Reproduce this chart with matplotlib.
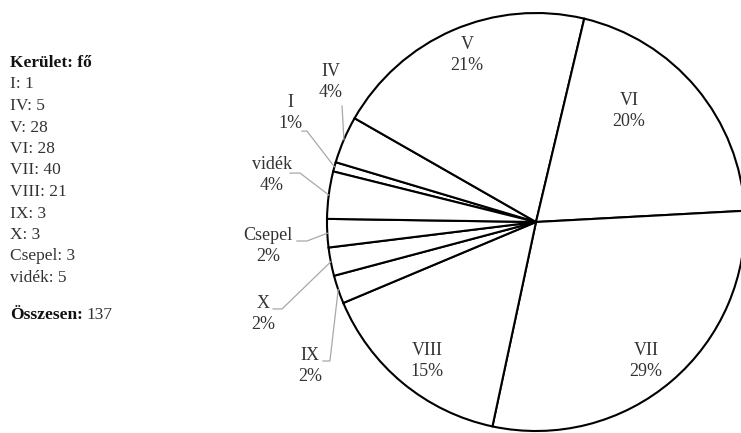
"""
Pie chart of participants by Budapest district (kerület), with a plain
text summary on the left.
"""

import numpy as np
import matplotlib

matplotlib.use("Agg")
import matplotlib.pyplot as plt

DISTRICTS = ["I", "IV", "V", "VI", "VII", "VIII", "IX", "X", "Csepel", "vidék"]
COUNTS = [1, 5, 28, 28, 40, 21, 3, 3, 3, 5]
PCT_LABELS = ["1%", "4%", "21%", "20%", "29%", "15%", "2%", "2%", "2%", "4%"]

# layout (pie radius = 1, centre at 0,0)
W, H = 741, 433
CX, CY, R = 536, 222, 209
TEXT_COLOR = "#333333"
LEADER_COLOR = "#a8a8a8"
FONT = "Liberation Serif"

# label centres for the big wedges
INSIDE_POS = {
    "V": (-0.330, 0.799),
    "VI": (0.445, 0.531),
    "VII": (0.526, -0.665),
    "VIII": (-0.522, -0.665),
}

# small wedges: label centre, end of the short horizontal, elbow
OUTSIDE_POS = {
    "IV": ((-0.981, 0.670), (-0.928, 0.555), (-0.928, 0.555)),
    "I": ((-1.177, 0.522), (-1.120, 0.435), (-1.096, 0.435)),
    "vidék": ((-1.263, 0.225), (-1.177, 0.234), (-1.129, 0.234)),
    "Csepel": ((-1.282, -0.115), (-1.144, -0.091), (-1.096, -0.091)),
    "X": ((-1.306, -0.440), (-1.258, -0.416), (-1.215, -0.416)),
    "IX": ((-1.081, -0.689), (-1.019, -0.665), (-0.986, -0.665)),
}


def draw_pie(ax):
    wedges, _ = ax.pie(
        COUNTS,
        startangle=166,
        counterclock=False,
        radius=1.0,
        center=(0, 0),
        colors=["white"] * len(COUNTS),
        wedgeprops=dict(edgecolor="black", linewidth=1.5),
    )
    ax.set_xlim(-CX / R, (W - CX) / R)
    ax.set_ylim(-(H - CY) / R, CY / R)
    ax.set_aspect("auto")
    ax.axis("off")

    for w, name, pct in zip(wedges, DISTRICTS, PCT_LABELS):
        label = f"{name}\n{pct}"
        if name in INSIDE_POS:
            x, y = INSIDE_POS[name]
            ax.text(x, y, label, ha="center", va="center", fontsize=13,
                    family=FONT, color=TEXT_COLOR, linespacing=1.25)
            continue
        (tx, ty), (hx, hy), (ex, ey) = OUTSIDE_POS[name]
        mid = np.deg2rad((w.theta1 + w.theta2) / 2)
        px, py = np.cos(mid), np.sin(mid)
        ax.plot([hx, ex, px], [hy, ey, py], color=LEADER_COLOR, lw=0.9,
                clip_on=False, zorder=3)
        ax.text(tx, ty, label, ha="center", va="center", fontsize=13,
                family=FONT, color=TEXT_COLOR, linespacing=1.25)


def draw_summary(fig):
    x0 = 10 / W
    step = 21.5
    y = 63
    size = 12.5
    fig.text(x0, 1 - y / H, "Kerület: fő", fontsize=size, family=FONT,
             weight="bold", color="#111111", va="center")
    for name, n in zip(DISTRICTS, COUNTS):
        y += step
        fig.text(x0, 1 - y / H, f"{name}: {n}", fontsize=size, family=FONT,
                 color=TEXT_COLOR, va="center")

    y_total = 315
    head = fig.text(x0, 1 - y_total / H, "Összesen:", fontsize=size, family=FONT,
                    weight="bold", color="#111111", va="center")
    renderer = fig.canvas.get_renderer()
    bb = head.get_window_extent(renderer=renderer)
    fig.text((bb.x1 + 4) / W, 1 - y_total / H, str(sum(COUNTS)), fontsize=size,
             family=FONT, color=TEXT_COLOR, va="center")


def main():
    fig = plt.figure(figsize=(W / 100, H / 100), dpi=100)
    fig.patch.set_facecolor("white")
    ax = fig.add_axes([0, 0, 1, 1])
    draw_pie(ax)
    draw_summary(fig)
    fig.savefig("out.png", dpi=100)
    plt.close(fig)


if __name__ == "__main__":
    main()
